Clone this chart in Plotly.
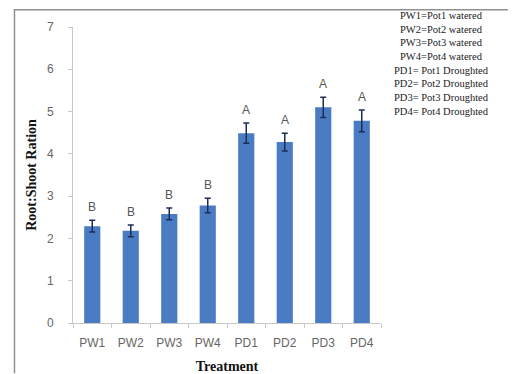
import plotly.graph_objects as go

categories = ["PW1", "PW2", "PW3", "PW4", "PD1", "PD2", "PD3", "PD4"]
ratio = [2.29, 2.18, 2.58, 2.78, 4.49, 4.28, 5.10, 4.78]
errors = [0.14, 0.14, 0.14, 0.17, 0.24, 0.21, 0.24, 0.26]
letters = ["B", "B", "B", "B", "A", "A", "A", "A"]
y_ticks = [0, 1, 2, 3, 4, 5, 6, 7]
legend_lines = [
    "PW1=Pot1 watered",
    "PW2=Pot2 watered",
    "PW3=Pot3 watered",
    "PW4=Pot4 watered",
    "PD1= Pot1 Droughted",
    "PD2= Pot2 Droughted",
    "PD3= Pot3 Droughted",
    "PD4= Pot4 Droughted",
]

fig = go.Figure()
fig.add_trace(go.Bar(
    x=categories, y=ratio,
    width=0.42,
    marker=dict(color="#4a7cc4", line=dict(width=0)),
    error_y=dict(type="data", array=errors, visible=True,
                 color="#1c2c55", thickness=1.5, width=3),
    showlegend=False,
))

for c, v, e, t in zip(categories, ratio, errors, letters):
    fig.add_annotation(x=c, y=v + e, text=t, showarrow=False,
                       yanchor="middle", yshift=13,
                       font=dict(family="Liberation Sans, Arial", size=12, color="#555555"))

fig.add_annotation(
    xref="paper", yref="paper", x=1.198, y=1.064,
    xanchor="center", yanchor="top", align="center",
    text="<br>".join(legend_lines), showarrow=False,
    font=dict(family="Liberation Serif, Times New Roman", size=10.5, color="#222222"),
)

# outer frame drawn with an annotation-free approach: paper-referenced path
fig.add_shape(type="path", xref="paper", yref="paper",
              path="M -0.19,-0.17 L -0.19,1.058 L 1.42,1.058",
              line=dict(color="#909090", width=1.5), layer="above")
fig.add_shape(type="line", xref="paper", yref="paper",
              x0=1.42, x1=1.42, y0=-0.17, y1=1.058,
              line=dict(color="#e0e0e0", width=1), layer="above")

# page body adds an 8px margin, so the figure is 8px smaller than the window
fig.update_layout(
    width=508, height=366,
    margin=dict(l=65, r=135, t=19, b=51, autoexpand=False),
    paper_bgcolor="white", plot_bgcolor="white",
    bargap=0.58,
    xaxis=dict(
        automargin=False,
        showline=True, linecolor="#c8c8c8", linewidth=1,
        ticks="outside", tickson="boundaries", ticklen=4, tickcolor="#c8c8c8",
        ticklabelstandoff=9,
        tickfont=dict(family="Liberation Sans, Arial", size=12, color="#666666"),
        title=dict(text="<b>Treatment</b>", standoff=12,
                   font=dict(family="Liberation Serif, Times New Roman", size=14, color="#111111")),
    ),
    yaxis=dict(
        automargin=False,
        range=[0, 7], tickvals=y_ticks,
        showline=True, linecolor="#c8c8c8", linewidth=1,
        ticks="outside", ticklen=4, tickcolor="#c8c8c8",
        ticklabelstandoff=12,
        showgrid=False, zeroline=False,
        tickfont=dict(family="Liberation Sans, Arial", size=12, color="#666666"),
        title=dict(text="<b>Root:Shoot Ration</b>", standoff=7,
                   font=dict(family="Liberation Serif, Times New Roman", size=14, color="#111111")),
    ),
)

fig.write_html("out.html")
